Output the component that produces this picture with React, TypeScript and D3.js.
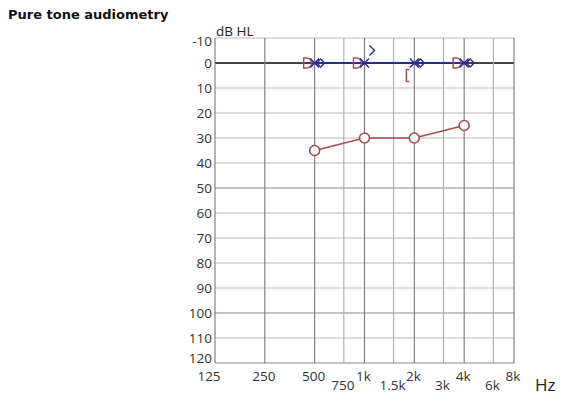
import React from "react";
import * as d3 from "d3";

const freqTicks = [125, 250, 500, 750, 1000, 1500, 2000, 3000, 4000, 6000, 8000];
const freqLabels = ["125", "250", "500", "750", "1k", "1.5k", "2k", "3k", "4k", "6k", "8k"];
const lowLabel = [false, false, false, true, false, true, false, true, false, true, false];
const octave = [true, true, true, false, true, false, true, false, true, false, true];
const dbTicks = [-10, 0, 10, 20, 30, 40, 50, 60, 70, 80, 90, 100, 110, 120];

// right ear air conduction (red circles)
const rightACFreq = [500, 1000, 2000, 4000];
const rightACdB = [35, 30, 30, 25];
// left ear air conduction (blue X)
const leftACFreq = [500, 1000, 2000, 4000];
const leftACdB = [0, 0, 0, 0];
// blue diamonds
const diamondFreq = [500, 2000, 4000];
const diamondDB = [0, 0, 0];
// red D symbols
const redDFreq = [500, 1000, 4000];
const redDdB = [0, 0, 0];
// red bracket
const bracketFreq = [2000];
const bracketDB = [5];
// blue caret
const caretFreq = [1000];
const caretDB = [-5];

const RED = "#a44c4c";
const BLUE = "#2a2a96";

export default function App() {
  const x = d3.scaleLog().base(2).domain([125, 8000]).range([215, 514]);
  const y = d3.scaleLinear().domain([-10, 120]).range([38, 363]);
  const line = d3.line<[number, number]>().x((d) => x(d[0])).y((d) => y(d[1]));
  const redPts: [number, number][] = rightACFreq.map((f, i) => [f, rightACdB[i]]);
  const bluePts: [number, number][] = leftACFreq.map((f, i) => [f, leftACdB[i]]);
  const tickFont = "'Open Sans', sans-serif";

  return (
    <svg
      width={567}
      height={407}
      style={{ position: "absolute", left: 0, top: 0, background: "#fff" }}
    >
      <text x={8} y={19} fontFamily="'DejaVu Sans', sans-serif" fontWeight="bold" fontSize={13} fill="#111">
        Pure tone audiometry
      </text>
      <text x={216} y={36} fontFamily={tickFont} fontSize={13.5} fill="#222">
        dB HL
      </text>
      {/* horizontal grid */}
      {dbTicks.map((d) => {
        const dark = d === 0 || d === 50 || d === 100 || d === 120;
        return (
          <line
            key={"h" + d}
            x1={x(125)}
            x2={x(8000)}
            y1={y(d)}
            y2={y(d)}
            stroke={d === 0 ? "#444" : dark ? "#888" : "#bbb"}
            strokeWidth={d === 0 ? 2 : 1.1}
          />
        );
      })}
      {/* vertical grid */}
      {freqTicks.map((f, i) => (
        <line
          key={"v" + f}
          x1={x(f)}
          x2={x(f)}
          y1={y(-10)}
          y2={y(120)}
          stroke={octave[i] ? "#777" : "#aaa"}
          strokeWidth={1.1}
        />
      ))}
      {/* y labels */}
      {dbTicks.map((d) => (
        <text
          key={"yl" + d}
          x={212}
          y={y(d) + (d === -10 ? 3 : d === 120 ? -5 : 0)}
          textAnchor="end"
          dominantBaseline="central"
          fontFamily={tickFont}
          fontSize={13.5}
          fill="#333"
        >
          {d}
        </text>
      ))}
      {/* x labels */}
      {freqTicks.map((f, i) => (
        <text
          key={"xl" + f}
          x={x(f) + (i === 0 ? -6 : -1)}
          y={lowLabel[i] ? 390 : 381}
          textAnchor="middle"
          fontFamily={tickFont}
          fontSize={13.5}
          fill="#333"
        >
          {freqLabels[i]}
        </text>
      ))}
      <text x={535} y={391} fontFamily={tickFont} fontSize={17} fill="#222">
        Hz
      </text>
      {/* blue line */}
      <path d={line(bluePts) || ""} fill="none" stroke={BLUE} strokeWidth={2} />
      {/* red line */}
      <path d={line(redPts) || ""} fill="none" stroke={RED} strokeWidth={1.6} />
      {redPts.map((p, i) => (
        <circle key={"c" + i} cx={x(p[0])} cy={y(p[1])} r={5} fill="#fff" stroke={RED} strokeWidth={1.6} />
      ))}
      {/* red D symbols */}
      {redDFreq.map((f, i) => {
        const cx = x(f) - 8;
        const cy = y(redDdB[i]);
        return (
          <path
            key={"D" + i}
            d={`M${cx - 3},${cy - 5} L${cx - 3},${cy + 5} L${cx},${cy + 5} A5,5 0 0 0 ${cx},${cy - 5} Z`}
            fill="none"
            stroke={RED}
            strokeWidth={1.4}
          />
        );
      })}
      {/* blue X */}
      {leftACFreq.map((f, i) => {
        const cx = x(f);
        const cy = y(leftACdB[i]);
        const s = 4.5;
        return (
          <path
            key={"X" + i}
            d={`M${cx - s},${cy - s} L${cx + s},${cy + s} M${cx - s},${cy + s} L${cx + s},${cy - s}`}
            stroke={BLUE}
            strokeWidth={1.5}
          />
        );
      })}
      {/* blue diamonds */}
      {diamondFreq.map((f, i) => {
        const cx = x(f) + 6;
        const cy = y(diamondDB[i]);
        return (
          <path
            key={"dm" + i}
            d={`M${cx - 4},${cy} L${cx},${cy - 4} L${cx + 4},${cy} L${cx},${cy + 4} Z`}
            fill="none"
            stroke={BLUE}
            strokeWidth={1.4}
          />
        );
      })}
      {/* red bracket */}
      {bracketFreq.map((f, i) => {
        const cx = x(f) - 8;
        const cy = y(bracketDB[i]);
        return (
          <path
            key={"br" + i}
            d={`M${cx + 3},${cy - 6} L${cx},${cy - 6} L${cx},${cy + 6} L${cx + 3},${cy + 6}`}
            fill="none"
            stroke={RED}
            strokeWidth={1.4}
          />
        );
      })}
      {/* blue caret */}
      {caretFreq.map((f, i) => {
        const cx = x(f) + 8;
        const cy = y(caretDB[i]);
        return (
          <path
            key={"ca" + i}
            d={`M${cx - 3},${cy - 5} L${cx + 2},${cy} L${cx - 3},${cy + 5}`}
            fill="none"
            stroke={BLUE}
            strokeWidth={1.4}
          />
        );
      })}
    </svg>
  );
}
